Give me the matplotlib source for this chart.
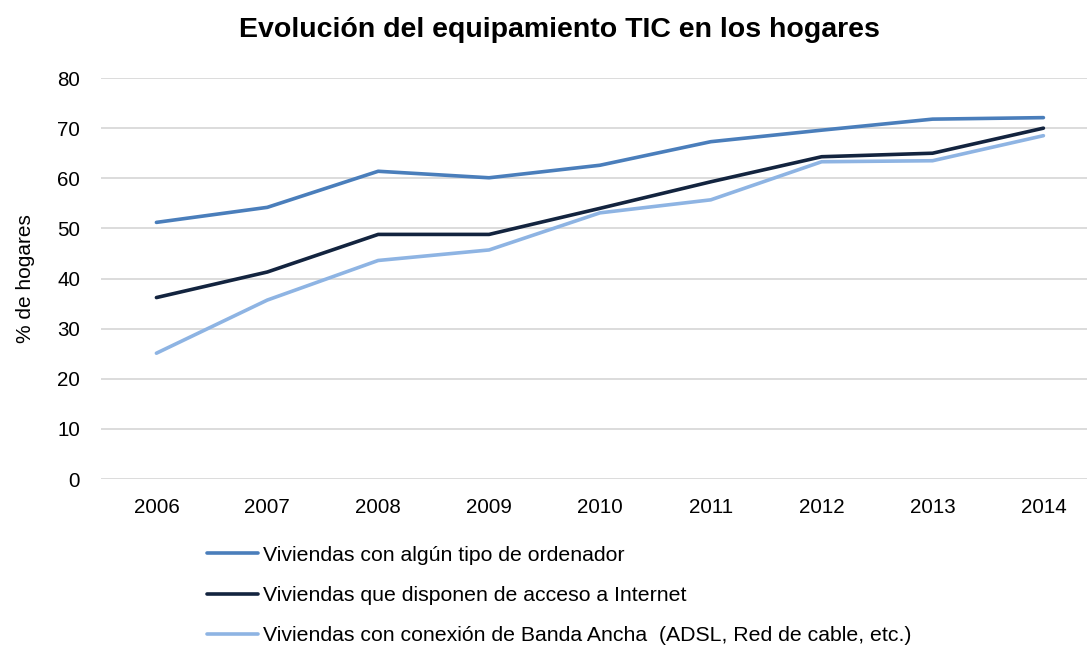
import numpy as np
import matplotlib
matplotlib.use('Agg')
import matplotlib.pyplot as plt

plt.rcParams['font.family'] = ['Liberation Sans', 'DejaVu Sans']

years = ['2006', '2007', '2008', '2009', '2010', '2011', '2012', '2013', '2014']
ordenador = [51.2, 54.2, 61.4, 60.1, 62.6, 67.3, 69.6, 71.8, 72.1]
internet = [36.2, 41.3, 48.8, 48.8, 54.0, 59.3, 64.3, 65.0, 70.0]
banda_ancha = [25.1, 35.7, 43.6, 45.7, 53.1, 55.7, 63.3, 63.5, 68.5]

labels = ['Viviendas con algún tipo de ordenador',
          'Viviendas que disponen de acceso a Internet',
          'Viviendas con conexión de Banda Ancha  (ADSL, Red de cable, etc.)']
colors = ['#4a7ebb', '#13243f', '#8eb4e3']

fig = plt.figure(figsize=(10.87, 6.46), dpi=100)
ax = fig.add_axes([0.0929, 0.2585, 0.918, 0.6207])

x = np.arange(len(years))
for serie, lab, col in zip([ordenador, internet, banda_ancha], labels, colors):
    ax.plot(x, serie, color=col, linewidth=2.6, label=lab, solid_capstyle='round')

ax.set_xlim(-0.5, len(years) - 0.5)
ax.set_ylim(0, 80)
ax.set_yticks(range(0, 81, 10))
ax.set_xticks(x)
ax.set_xticklabels(years)
ax.tick_params(axis='both', length=0, labelsize=14.8)
ax.tick_params(axis='y', pad=15)
ax.tick_params(axis='x', pad=14)
ax.grid(axis='y', color='#d9d9d9', linewidth=1.3)
ax.set_axisbelow(True)
for s in ax.spines.values():
    s.set_visible(False)

ax.set_ylabel('% de hogares', fontsize=15, labelpad=16)
fig.text(0.515, 0.953, 'Evolución del equipamiento TIC en los hogares',
         ha='center', va='center', fontsize=20.5, fontweight='bold')

fig.legend(loc='upper left', bbox_to_anchor=(0.1904, 0.155), frameon=False,
           fontsize=15.3, handlelength=2.4, handletextpad=0.23,
           labelspacing=1.0, borderaxespad=0, borderpad=0)

fig.savefig('out.png', dpi=100)
